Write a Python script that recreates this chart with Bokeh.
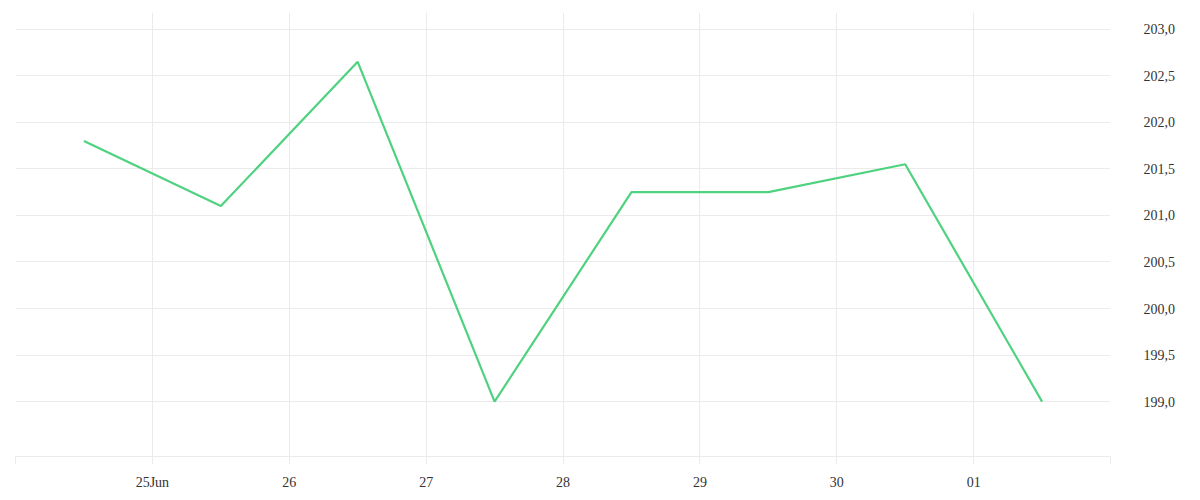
from datetime import datetime
from bokeh.plotting import figure
from bokeh.models import FixedTicker, CustomJSTickFormatter, Range1d, LinearAxis
from bokeh.embed import file_html
from bokeh.resources import INLINE

dates = ["2025-06-24 12:00", "2025-06-25 12:00", "2025-06-26 12:00", "2025-06-27 12:00",
         "2025-06-28 12:00", "2025-06-29 12:00", "2025-06-30 12:00", "2025-07-01 12:00"]
values = [201.80, 201.10, 202.65, 199.00, 201.25, 201.25, 201.55, 199.00]
tick_days = ["2025-06-24", "2025-06-25", "2025-06-26", "2025-06-27", "2025-06-28",
             "2025-06-29", "2025-06-30", "2025-07-01", "2025-07-02"]
y_ticks = [199.0, 199.5, 200.0, 200.5, 201.0, 201.5, 202.0, 202.5, 203.0]

xs = [datetime.strptime(d, "%Y-%m-%d %H:%M") for d in dates]
def ms(d):
    return (datetime.strptime(d, "%Y-%m-%d") - datetime(1970, 1, 1)).total_seconds() * 1000.0
xticks = [ms(d) for d in tick_days]

FONT = "Liberation Serif"
GRID = "#ebebeb"

p = figure(width=1192, height=492, x_axis_type="datetime", output_backend="svg",
           toolbar_location=None, y_axis_location=None,
           x_range=Range1d(xticks[0], xticks[-1]), y_range=Range1d(198.41, 203.18),
           min_border_left=15, min_border_right=82, min_border_top=12, min_border_bottom=34)
p.outline_line_color = None
p.background_fill_color = "white"
p.border_fill_color = "white"

p.line(xs, values, line_color="#4fd27f", line_width=2.2)

yaxis = LinearAxis(ticker=FixedTicker(ticks=y_ticks))
yaxis.formatter = CustomJSTickFormatter(code="return tick.toFixed(1).replace('.', ',');")
yaxis.major_tick_line_color = None
yaxis.minor_tick_line_color = None
yaxis.axis_line_color = None
yaxis.major_label_standoff = 27
yaxis.major_label_text_font = FONT
yaxis.major_label_text_font_size = "14px"
yaxis.major_label_text_color = "#333333"
p.add_layout(yaxis, "right")

xa = p.xaxis[0]
xa.ticker = FixedTicker(ticks=xticks)
xa.formatter = CustomJSTickFormatter(code="""
const d = new Date(tick);
const day = d.getUTCDate();
const mon = d.getUTCMonth();
if ((day == 24 && mon == 5) || (day == 2 && mon == 6)) { return ''; }
const s = String(day).padStart(2, '0');
if (day == 25 && mon == 5) { return s + 'Jun'; }
return s;
""")
xa.axis_line_color = GRID
xa.major_tick_line_color = GRID
xa.major_tick_out = 8
xa.major_tick_in = 0
xa.minor_tick_line_color = None
xa.major_label_standoff = 10
xa.major_label_text_font = FONT
xa.major_label_text_font_size = "14px"
xa.major_label_text_color = "#333333"

p.xgrid.ticker = FixedTicker(ticks=xticks)
p.xgrid.grid_line_color = GRID
p.ygrid.ticker = FixedTicker(ticks=y_ticks)
p.ygrid.grid_line_color = GRID

open("out.html", "w").write(file_html(p, INLINE))
